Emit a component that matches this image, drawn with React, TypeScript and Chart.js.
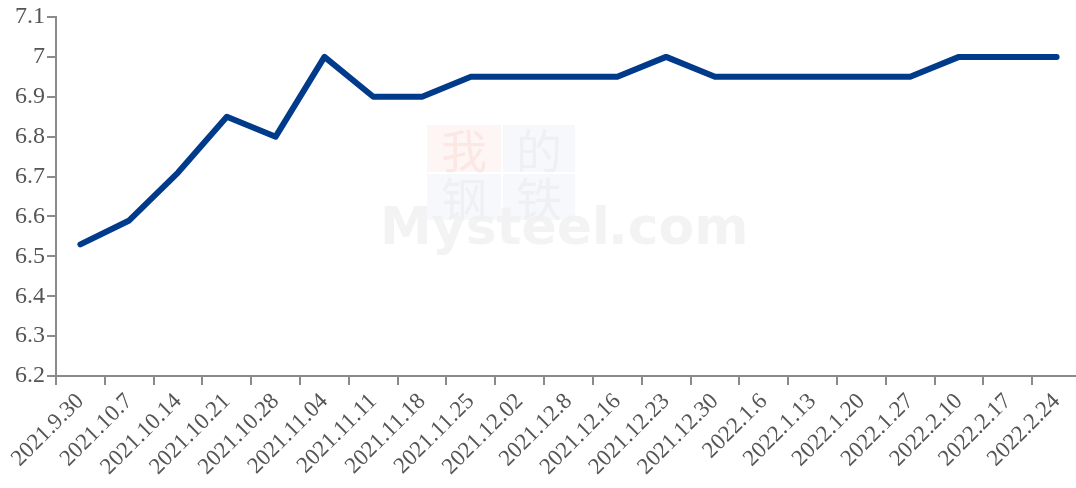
import React, { useEffect, useRef } from "react";
import { Chart, registerables } from "chart.js";

Chart.register(...registerables);

const categories = [
  "2021.9.30", "2021.10.7", "2021.10.14", "2021.10.21", "2021.10.28", "2021.11.04",
  "2021.11.11", "2021.11.18", "2021.11.25", "2021.12.02", "2021.12.8", "2021.12.16",
  "2021.12.23", "2021.12.30", "2022.1.6", "2022.1.13", "2022.1.20", "2022.1.27",
  "2022.2.10", "2022.2.17", "2022.2.24",
];
const values = [
  6.53, 6.59, 6.71, 6.85, 6.8, 7.0, 6.9, 6.9, 6.95, 6.95, 6.95, 6.95, 7.0, 6.95,
  6.95, 6.95, 6.95, 6.95, 7.0, 7.0, 7.0,
];
const yMin = 6.2;
const yMax = 7.1;
const yStep = 0.1;

const FONT = "'Liberation Serif', 'Times New Roman', serif";
const AXIS = "#8a8a8a";
const TEXT = "#555555";

const watermark = {
  id: "watermark",
  beforeDatasetsDraw(chart: any) {
    const ctx = chart.ctx as CanvasRenderingContext2D;
    ctx.save();
    const boxes = [
      { x: 427, y: 125, w: 74, h: 47, bg: "#fef6f5", fg: "#fbe7e3", ch: "我" },
      { x: 503, y: 125, w: 72, h: 47, bg: "#f7f8fb", fg: "#eef0f5", ch: "的" },
      { x: 427, y: 174, w: 74, h: 46, bg: "#f7f8fb", fg: "#eef0f5", ch: "钢" },
      { x: 503, y: 174, w: 72, h: 46, bg: "#f7f8fb", fg: "#eef0f5", ch: "铁" },
    ];
    for (const b of boxes) {
      ctx.fillStyle = b.bg;
      ctx.fillRect(b.x, b.y, b.w, b.h);
      ctx.fillStyle = b.fg;
      ctx.font = "46px 'Noto Sans CJK SC'";
      ctx.textAlign = "center";
      ctx.textBaseline = "middle";
      ctx.fillText(b.ch, b.x + b.w / 2, b.y + b.h / 2 + 2);
    }
    ctx.fillStyle = "rgba(240,240,240,0.8)";
    ctx.font = "bold 52px 'DejaVu Sans'";
    ctx.textAlign = "left";
    ctx.textBaseline = "alphabetic";
    ctx.fillText("Mysteel", 380, 244);
    ctx.fillText(".com", 608, 244);
    ctx.restore();
  },
};

export default function App() {
  const ref = useRef<HTMLCanvasElement | null>(null);
  useEffect(() => {
    document.body.style.margin = "0";
    document.body.style.overflow = "hidden";
    const canvas = ref.current!;
    const chart = new Chart(canvas, {
      type: "line",
      data: {
        labels: categories,
        datasets: [
          {
            data: values,
            borderColor: "#003a8a",
            backgroundColor: "#003a8a",
            borderWidth: 6,
            pointRadius: 0,
            tension: 0,
            borderCapStyle: "round",
            borderJoinStyle: "round",
          },
        ],
      },
      options: {
        responsive: false,
        animation: false,
        layout: { padding: { top: 17, right: 1, left: 0, bottom: 0 } },
        plugins: {
          legend: { display: false },
          tooltip: { enabled: false },
        },
        scales: {
          x: {
            type: "category",
            offset: true,
            grid: {
              offset: true,
              drawOnChartArea: false,
              drawTicks: true,
              tickLength: 9,
              color: AXIS,
              lineWidth: 2,
            },
            border: { color: AXIS, width: 2 },
            ticks: {
              autoSkip: false,
              minRotation: 45,
              maxRotation: 45,
              padding: 3,
              color: TEXT,
              font: { family: FONT, size: 23 },
            },
            afterFit(scale: any) {
              scale.height = 112;
            },
          },
          y: {
            min: yMin,
            max: yMax,
            grid: {
              drawOnChartArea: false,
              drawTicks: true,
              tickLength: 9,
              color: AXIS,
              lineWidth: 2,
            },
            border: { color: AXIS, width: 2 },
            ticks: {
              stepSize: yStep,
              padding: 2,
              color: TEXT,
              font: { family: FONT, size: 24 },
              callback: (v: any) => String(parseFloat(Number(v).toFixed(1))),
            },
            afterFit(scale: any) {
              scale.width = 56;
            },
          },
        },
      },
      plugins: [watermark],
    });
    return () => chart.destroy();
  }, []);
  return (
    <div style={{ width: 1076, height: 488, overflow: "hidden", position: "relative", background: "#fff" }}>
      <canvas ref={ref} width={1082} height={488} style={{ width: 1082, height: 488, display: "block" }} />
    </div>
  );
}
